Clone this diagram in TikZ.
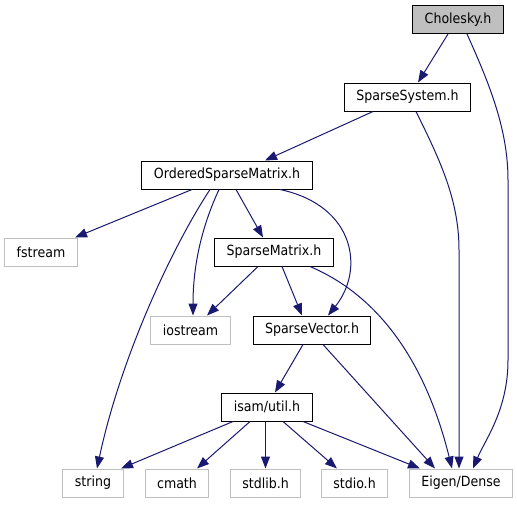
\documentclass[tikz,border=0pt]{standalone}
\usepackage{fontspec}
\setsansfont{DejaVu Sans Condensed}
\usetikzlibrary{arrows.meta}

\definecolor{edgeblue}{HTML}{191970}
\definecolor{boxgray}{HTML}{BFBFBF}

\tikzset{
  file/.style={draw=black, line width=1pt, inner xsep=12pt, minimum height=28pt,
    font=\sffamily\fontsize{14}{16}\selectfont},
  sysfile/.style={file, draw=boxgray},
  mainfile/.style={file, fill=boxgray},
  edge/.style={draw=edgeblue, line width=1pt, -{Triangle[length=12pt,width=9pt]}}
}

\begin{document}
\begin{tikzpicture}[x=1pt, y=-1pt]
\useasboundingbox (0,0) rectangle (517,504);
% Headers
\node[mainfile] (chol) at (458,19.5) {Cholesky.h};
\node[file] (sys) at (407.5,97) {SparseSystem.h};
\node[file] (osm) at (227,175) {OrderedSparseMatrix.h};
\node[sysfile] (fstream) at (41,252) {fstream};
\node[file] (smat) at (274,252) {SparseMatrix.h};
\node[sysfile] (iostream) at (190.5,330) {iostream};
\node[file] (svec) at (312,330) {SparseVector.h};
\node[file] (util) at (267,407) {isam/util.h};
% System headers, bottom row
\node[sysfile] (string) at (93,483) {string};
\node[sysfile] (cmath) at (177,483) {cmath};
\node[sysfile] (stdlib) at (265.5,483) {stdlib.h};
\node[sysfile] (stdio) at (354.5,483) {stdio.h};
\node[sysfile] (eigen) at (461,483) {Eigen/Dense};
% Includes
\draw[edge] ([xshift=-10]chol.south) -- ([xshift=10.5]sys.north);
\draw[edge] ([xshift=9]chol.south) .. controls (490,85) and (508,130) .. (508,180)
  -- (508,360) .. controls (508,410) and (485,440) .. ([xshift=12]eigen.north);
\draw[edge] ([xshift=-34.5]sys.south) -- ([xshift=38]osm.north);
\draw[edge] ([xshift=8.5]sys.south) .. controls (440,160) and (459,200) .. (459,250)
  -- ([xshift=-2]eigen.north);
\draw[edge] ([xshift=-35]osm.south) -- ([xshift=34]fstream.north);
\draw[edge] ([xshift=-17]osm.south) .. controls +(-40,61) and +(23,-108) .. ([xshift=4]string.north);
\draw[edge] ([xshift=-8]osm.south) .. controls +(-19,41) and +(0,-46) .. ([xshift=2.5]iostream.north);
\draw[edge] ([xshift=9]osm.south) -- ([xshift=-11]smat.north);
\draw[edge] ([xshift=53]osm.south) .. controls +(75,16) and +(37,-46) .. ([xshift=16]svec.north);
\draw[edge] ([xshift=-16]smat.south) -- ([xshift=16.5]iostream.north);
\draw[edge] ([xshift=8]smat.south) -- ([xshift=-10]svec.north);
\draw[edge] ([xshift=36]smat.south) .. controls +(80,34) and +(-22,-89) .. ([xshift=-9]eigen.north);
\draw[edge] ([xshift=-9]svec.south) -- ([xshift=8]util.north);
\draw[edge] ([xshift=11]svec.south) -- ([xshift=-26]eigen.north);
\draw[edge] ([xshift=-34]util.south) -- ([xshift=28]string.north);
\draw[edge] ([xshift=-17]util.south) -- ([xshift=20]cmath.north);
\draw[edge] (stdlib.north |- util.south) -- (stdlib.north);
\draw[edge] ([xshift=16]util.south) -- ([xshift=-17.5]stdio.north);
\draw[edge] ([xshift=36]util.south) -- ([xshift=-41]eigen.north);
\end{tikzpicture}
\end{document}
